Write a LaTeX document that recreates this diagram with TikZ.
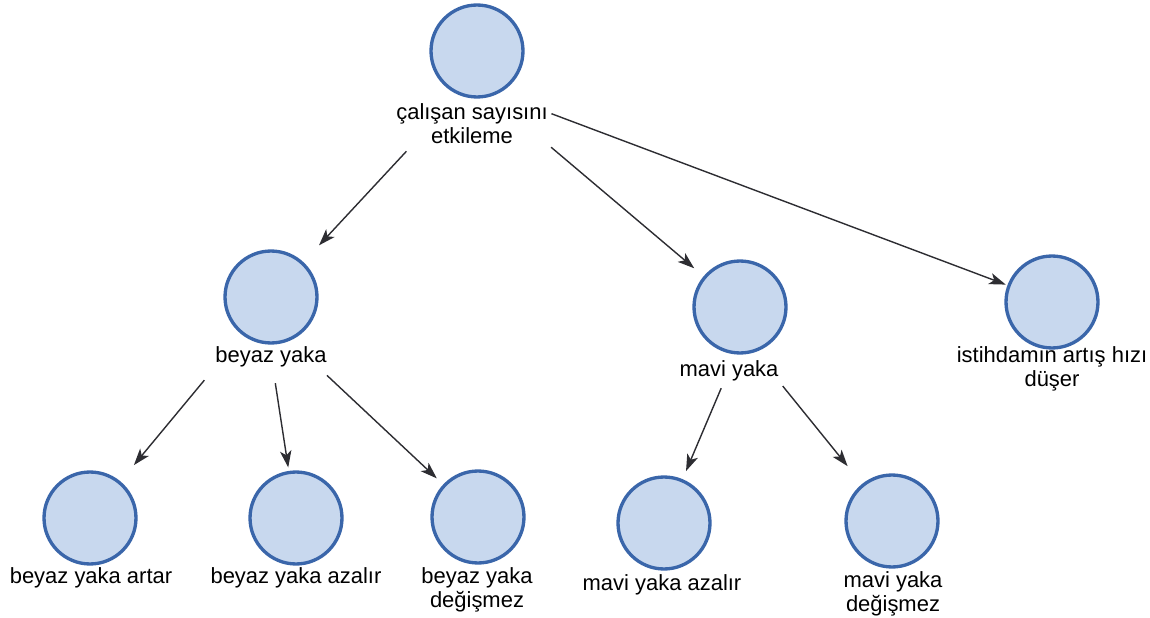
\documentclass[tikz,border=0pt]{standalone}
\usepackage{fontspec}
\setmainfont{Liberation Sans}
\usetikzlibrary{arrows.meta}
\definecolor{ballfill}{RGB}{200,216,238}
\definecolor{ballline}{RGB}{58,102,170}
\definecolor{arrowgray}{RGB}{45,45,50}
\begin{document}
\begin{tikzpicture}[x=0.02cm, y=-0.02cm,
    ball/.style={circle, draw=ballline, line width=1.9pt, fill=ballfill, minimum size=1.84cm, inner sep=0pt},
    lbl/.style={align=center, inner sep=1pt, font=\fontsize{12.5}{13.6}\selectfont},
    arr/.style={draw=arrowgray, line width=0.8pt, -{Stealth[length=9.5pt, width=6.5pt, inset=2.5pt]}}]
        \useasboundingbox (0, 0) rectangle (1150, 618);
        % circles
        \node [ball] (top) at (477, 51) {};
        \node [ball] (by) at (271, 297) {};
        \node [ball] (my) at (740, 307) {};
        \node [ball] (ist) at (1052, 302) {};
        \node [ball] (bya) at (90, 518) {};
        \node [ball] (byz) at (296, 518) {};
        \node [ball] (byd) at (478, 517) {};
        \node [ball] (mya) at (664, 523) {};
        \node [ball] (myd) at (892, 521) {};
        % labels
        \node [lbl] (lblTop) at (472, 124) {çalışan sayısını\\etkileme};
        \node [lbl] (lblBy) at (271, 357) {beyaz yaka};
        \node [lbl] (lblMy) at (729, 371) {mavi yaka};
        \node [lbl] (lblIst) at (1052, 369) {istihdamın artış hızı\\düşer};
        \node [lbl] (lblBya) at (91, 578) {beyaz yaka artar};
        \node [lbl] (lblByz) at (296, 578) {beyaz yaka azalır};
        \node [lbl] (lblByd) at (477, 590) {beyaz yaka\\değişmez};
        \node [lbl] (lblMya) at (662, 585) {mavi yaka azalır};
        \node [lbl] (lblMyd) at (893, 594) {mavi yaka\\değişmez};
        % arrows
        \draw [arr, shorten <=4pt, shorten >=13pt] (lblTop.200) -- (by);
        \draw [arr, shorten <=1pt, shorten >=7pt] (lblTop.south east) -- (my);
        \draw [arr, shorten <=1pt, shorten >=1pt] (lblTop.8) -- (ist);
        \draw [arr, shorten <=8pt, shorten >=12pt] (lblBy.south west) -- (bya);
        \draw [arr, shorten <=8pt, shorten >=2pt] (lblBy.-80) -- (byz);
        \draw [arr, shorten <=5pt, shorten >=5pt] (lblBy.-14) -- (byd);
        \draw [arr, shorten <=3pt, shorten >=5pt] (lblMy.-115) -- (mya);
        \draw [arr, shorten <=2pt, shorten >=13pt] (lblMy.south east) -- (myd);
      \end{tikzpicture}
\end{document}
